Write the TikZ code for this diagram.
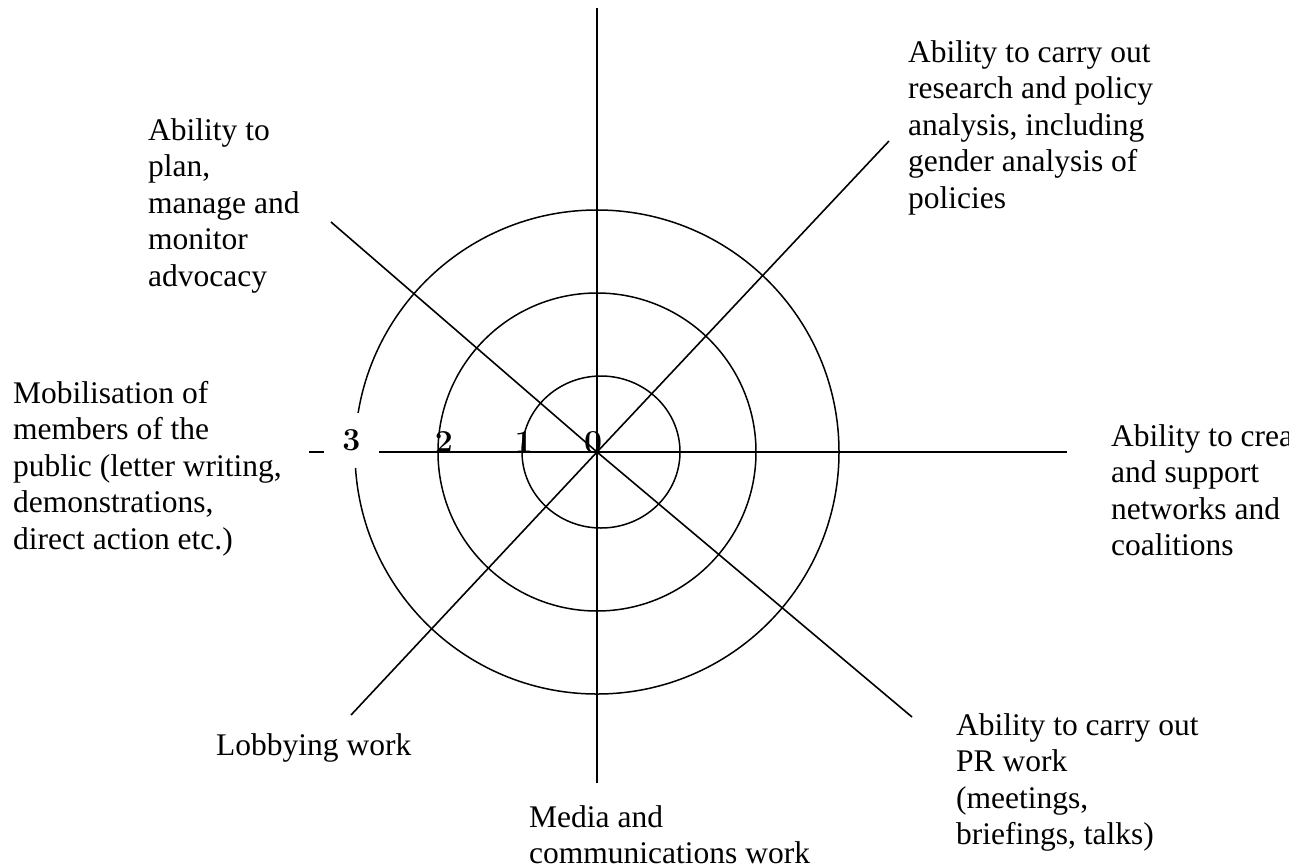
\documentclass[tikz,border=0pt]{standalone}
\usepackage{fontspec}
\setmainfont{Liberation Serif}
\newfontfamily\numfont{Latin Modern Roman}
\newcommand{\stacklines}[1]{\begin{tabular}[t]{@{}l@{}}#1\end{tabular}}
\begin{document}
\begin{tikzpicture}[x=1pt,y=-1pt,
  axisline/.style={line width=1.6pt},
  ring/.style={line width=1.5pt},
  lbl/.style={anchor=base west, inner sep=0pt, font=\fontsize{31.5}{36.5}\selectfont},
  num/.style={inner sep=0pt, font=\numfont\bfseries\fontsize{32}{36.5}\selectfont}]
\useasboundingbox (0,0) rectangle (1303,863);
\clip (0,0) rectangle (1303,863);
\renewcommand{\arraystretch}{1}
% centre and axis ends
\coordinate (c) at (597,452);
\coordinate (top) at (597,8);
\coordinate (bot) at (597,783);
\coordinate (left) at (309,452);
\coordinate (right) at (1067,452);
\coordinate (ne) at (889,141);
\coordinate (nw) at (331,222);
\coordinate (se) at (912,717);
\coordinate (sw) at (351,715);
% rings
\draw[ring] (601,452) circle[x radius=79, y radius=76];
\draw[ring] (c) circle[radius=159];
\draw[ring] (c) circle[radius=242];
% axes
\draw[axisline] (top) -- (bot);
\draw[axisline] (left) -- (right);
\draw[axisline] (c) -- (ne);
\draw[axisline] (nw) -- (c) -- (se);
\draw[axisline] (c) -- (sw);
% scale numbers
\node[num, fill=white, minimum width=55pt, minimum height=55pt] (n3) at (351.5,440.5) {3};
\node[num, anchor=base] (n2) at (444,452) {2};
\node[num, anchor=base] (n1) at (524,452) {1};
\node[num, anchor=base] (n0) at (593,452) {0};
% labels
\node[lbl] (tne) at (908,62) {\stacklines{Ability to carry out\\research and policy\\analysis, including\\gender analysis of\\policies}};
\node[lbl] (tnw) at (148,140) {\stacklines{Ability to\\plan,\\manage and\\monitor\\advocacy}};
\node[lbl] (tw) at (13,403) {\stacklines{Mobilisation of\\members of the\\public (letter writing,\\demonstrations,\\direct action etc.)}};
\begin{scope}
\clip (1100,400) rectangle (1288,600);
\node[lbl] (te) at (1111,446) {\stacklines{Ability to create\\and support\\networks and\\coalitions}};
\end{scope}
\node[lbl] (tse) at (956,735) {\stacklines{Ability to carry out\\PR work\\(meetings,\\briefings, talks)}};
\node[lbl] (tsw) at (216,755) {Lobbying work};
\node[lbl] (ts) at (529,827) {\stacklines{Media and\\communications work}};
\end{tikzpicture}
\end{document}
